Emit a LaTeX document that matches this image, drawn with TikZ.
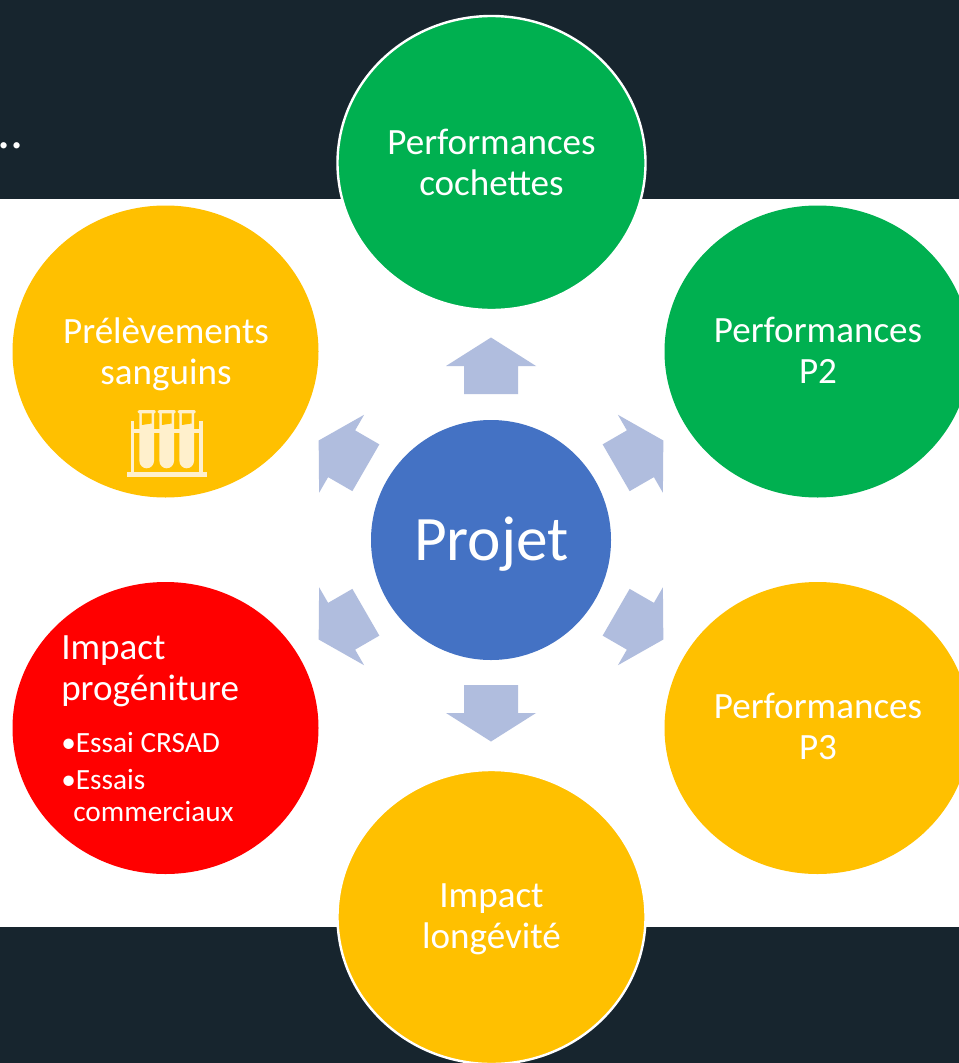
\documentclass[tikz,border=0pt]{standalone}
\usepackage{fontspec}
\setmainfont{Carlito}
\usetikzlibrary{shapes.geometric}
\definecolor{darkband}{HTML}{17252E}
\definecolor{cgreen}{HTML}{00B050}
\definecolor{cyellow}{HTML}{FFC000}
\definecolor{cred}{HTML}{FF0000}
\definecolor{cblue}{HTML}{4472C4}
\definecolor{carrow}{HTML}{B0BDDE}
\definecolor{cicon}{HTML}{FFF0CC}
\newcommand{\bigtxt}{\fontsize{27.8pt}{30.75pt}\selectfont}
\newcommand{\smalltxt}{\fontsize{22pt}{24pt}\selectfont}
% point at offset u across, r along the direction a (clockwise from up), from the hub
\newcommand{\apt}[2]{({491+(#1)*\cs+(#2)*\sn},{540+(#1)*\sn-(#2)*\cs})}
\newcommand{\blockarrow}[3]{%
  \pgfmathsetmacro{\cs}{cos(#1)}%
  \pgfmathsetmacro{\sn}{sin(#1)}%
  \fill[carrow] \apt{-27}{#2} -- \apt{-27}{#2+28} -- \apt{-45}{#2+28} -- \apt{0}{#2+#3}
      -- \apt{45}{#2+28} -- \apt{27}{#2+28} -- \apt{27}{#2} -- cycle;}
\newcommand{\testtube}[1]{%
  \fill[cicon, rounded corners=1pt] (#1-9,410) rectangle (#1+9,413.4);
  \fill[cicon] (#1-7.3,412) -- (#1-7.3,461) arc[start angle=180,end angle=0,x radius=7.3,y radius=7.3] -- (#1+7.3,412) -- cycle;
  \fill[cyellow] (#1-4.8,413.4) -- (#1-4.8,425) -- (#1+4.8,423.5) -- (#1+4.8,413.4) -- cycle;}
\tikzset{
  x=0.75pt,y=-0.75pt,
  bubble/.style={ellipse,inner sep=0pt,minimum width=229.5pt,minimum height=219pt},
  ringed/.style={bubble,draw=white,line width=1.8pt},
  bubbletext/.style={text=white,align=center,font=\bigtxt},
  smallline/.style={text=white,anchor=base west,inner sep=0pt,font=\smalltxt},
}
\begin{document}
\begin{tikzpicture}
\clip (0,0) rectangle (959,1063);
\fill[white] (0,0) rectangle (959,1063);
\fill[darkband] (0,0) rectangle (959,199);
\fill[darkband] (0,927) rectangle (959,1063);
\node[text=white,anchor=base west,inner sep=0pt,font=\fontsize{39pt}{39pt}\selectfont] (dots) at (-3,148) {..};
% bubbles
\node[ringed,fill=cgreen,minimum width=231pt,minimum height=220.5pt] (top) at (491.5,163) {};
\node[bubble,fill=cgreen] (tr) at (817.5,351.5) {};
\node[bubble,fill=cyellow] (br) at (817.5,728) {};
\node[ringed,fill=cyellow,minimum width=231pt,minimum height=220.5pt] (bot) at (491.5,917) {};
\node[bubble,fill=cred] (bl) at (165.5,728) {};
\node[bubble,fill=cyellow] (tl) at (165.5,351.5) {};
\node[circle,fill=cblue,inner sep=0pt,minimum size=180pt] (centre) at (491,540) {};
% arrows
\blockarrow{0}{146}{56.5}
\blockarrow{180}{145}{56.5}
\blockarrow{60}{144.5}{54.5}
\blockarrow{120}{144.5}{54.5}
\blockarrow{-60}{144.5}{54.5}
\blockarrow{-120}{144.5}{54.5}
% labels
\node[bubbletext] (t1) at (491.5,162.5) {Performances\\cochettes};
\node[bubbletext] (t2) at (818,350.5) {Performances\\P2};
\node[bubbletext] (t3) at (818,726.5) {Performances\\P3};
\node[bubbletext] (t4) at (491.5,919.5) {Impact\\longévité};
\node[bubbletext] (t5) at (166,354) {Prélèvements\\sanguins};
\node[text=white,font=\fontsize{47.5pt}{47.5pt}\selectfont] (t6) at (491.5,544) {Projet};
\node[bubbletext,align=left,anchor=base west,inner sep=0pt] (t7) at (61,700.5) {Impact\\progéniture};
\node[smallline] (t8) at (61,752) {•Essai CRSAD};
\node[smallline] (t9) at (61,789) {•Essais};
\node[smallline] (t10) at (73,821) {commerciaux};
% test tube icon
\fill[cicon] (126.7,472.3) rectangle (206.7,477.3);
\fill[cicon] (130.7,421) rectangle (134,473);
\fill[cicon] (199.3,421) rectangle (202.7,473);
\fill[cicon] (131,429.3) rectangle (202,432.7);
\testtube{146.7}
\testtube{166.7}
\testtube{186.7}
\end{tikzpicture}
\end{document}
